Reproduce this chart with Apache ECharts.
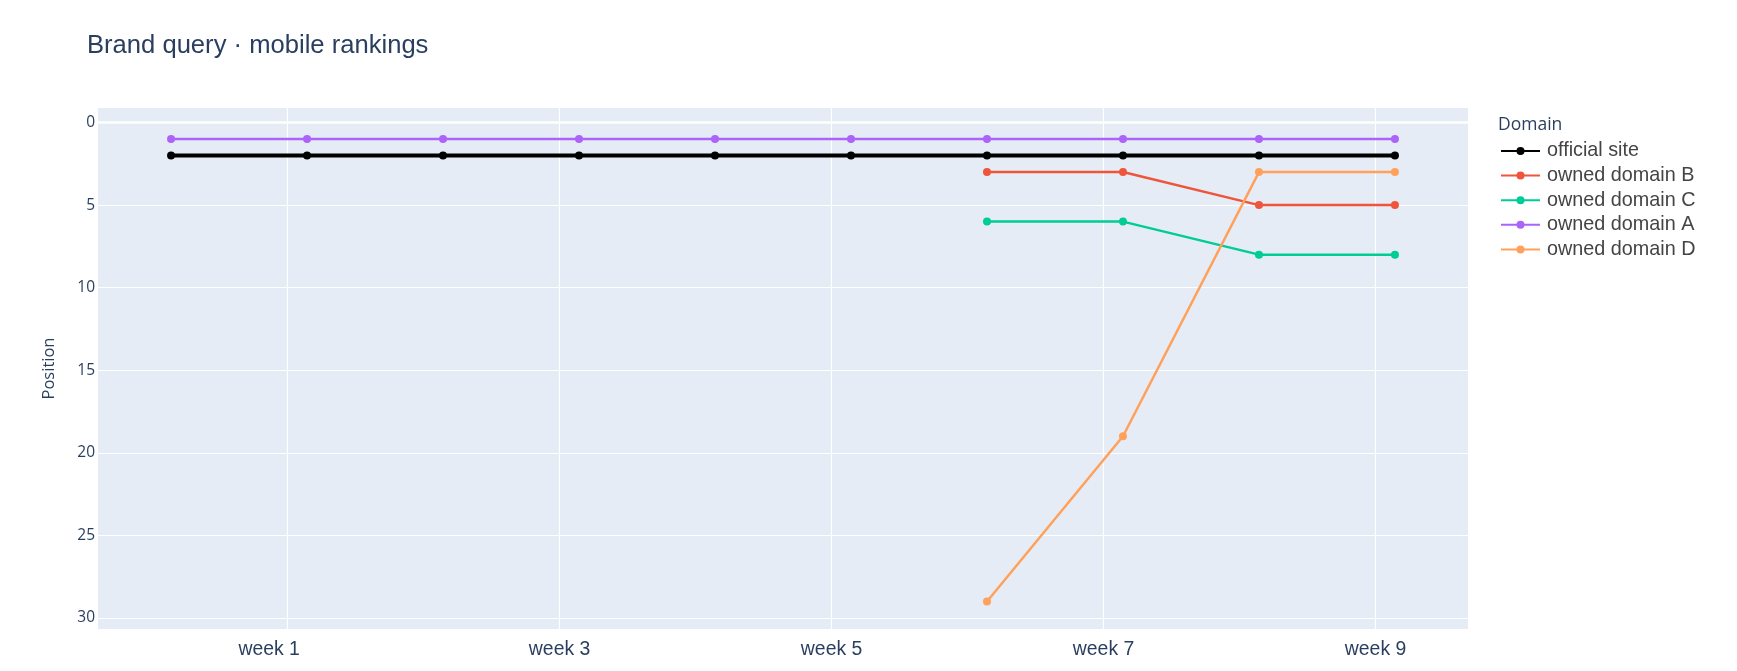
<!DOCTYPE html>
<html>
<head>
<meta charset="utf-8">
<script src="https://cdn.jsdelivr.net/npm/echarts@6/dist/echarts.min.js"></script>
<style>
  html, body { margin: 0; padding: 0; background: #fff; }
  #chart { width: 1737px; height: 671px; }
</style>
</head>
<body>
<div id="chart"></div>
<script>
// ---- data ----
const days = [1, 8, 15, 22, 29, 36, 43, 50, 57, 64];
const tickDays = [7, 21, 35, 49, 63];
const tickLabels = ['week 1', 'week 3', 'week 5', 'week 7', 'week 9'];
const yTicks = [0, 5, 10, 15, 20, 25, 30];
const seriesNames = ['official site', 'owned domain B', 'owned domain C', 'owned domain A', 'owned domain D'];
const officialSite = [2, 2, 2, 2, 2, 2, 2, 2, 2, 2];
const ownedB = [null, null, null, null, null, null, 3, 3, 5, 5];
const ownedC = [null, null, null, null, null, null, 6, 6, 8, 8];
const ownedA = [1, 1, 1, 1, 1, 1, 1, 1, 1, 1];
const ownedD = [null, null, null, null, null, null, 29, 19, 3, 3];

const values = [officialSite, ownedB, ownedC, ownedA, ownedD];
const colors = ['#000000', '#EF553B', '#00CC96', '#AB63FA', '#FFA15A'];
const widths = [4, 2.5, 2.5, 2.5, 2.5];

const SANS = '"Liberation Sans", Arial, sans-serif';
const OPEN = '"Open Sans", "Noto Sans", sans-serif';
const TXT = '#2a3f5f';

const series = values.map((vals, k) => {
  const s = {
    name: seriesNames[k],
    type: 'line',
    data: vals.map((v, i) => v == null ? null : [days[i], v]).filter(p => p !== null),
    symbol: 'circle',
    symbolSize: 8,
    showSymbol: true,
    lineStyle: { color: colors[k], width: widths[k] },
    itemStyle: { color: colors[k] },
    emphasis: { disabled: true },
    animation: false
  };
  if (k === 0) {
    s.markLine = {
      silent: true,
      symbol: 'none',
      label: { show: false },
      lineStyle: { color: '#ffffff', width: 2.5, type: 'solid' },
      data: [{ yAxis: 0 }],
      animation: false
    };
  }
  return s;
});

const chart = echarts.init(document.getElementById('chart'), null, { renderer: 'canvas' });
chart.setOption({
  backgroundColor: '#ffffff',
  animation: false,
  title: [
    {
      text: 'Brand query · mobile rankings',
      left: 87, top: 33, padding: 0,
      textStyle: { fontFamily: SANS, fontSize: 25.6, fontWeight: 'normal', color: TXT }
    },
    {
      text: 'Domain',
      left: 1498, top: 116, padding: 0,
      textStyle: { fontFamily: OPEN, fontSize: 17.5, fontWeight: 'normal', color: TXT }
    }
  ],
  legend: {
    orient: 'vertical',
    left: 1500, top: 141,
    padding: 0,
    itemWidth: 39, itemHeight: 10, itemGap: 4.6,
    textStyle: { fontFamily: SANS, fontSize: 19.8, color: '#444', lineHeight: 20, padding: [0, 0, 0, 2] },
    data: seriesNames
  },
  grid: { left: 98, right: 269, top: 108, bottom: 42, containLabel: false,
          show: true, backgroundColor: '#E5ECF6', borderWidth: 0 },
  xAxis: {
    type: 'value',
    min: -2.76, max: 67.76,
    axisLine: { show: false },
    axisTick: { show: false, customValues: tickDays },
    axisLabel: {
      customValues: tickDays,
      formatter: v => {
        const i = tickDays.indexOf(v);
        if (i < 0) return '';
        return i === 0 ? '{s|' + tickLabels[i] + '}' : tickLabels[i];
      },
      rich: { s: { fontFamily: SANS, fontSize: 19.4, color: TXT, padding: [0, 37, 0, 0] } },
      fontFamily: SANS, fontSize: 19.4, color: TXT, margin: 11
    },
    splitLine: { show: true, lineStyle: { color: '#ffffff', width: 1.2 } }
  },
  yAxis: {
    type: 'value',
    inverse: true,
    min: -0.88, max: 30.67,
    name: 'Position',
    nameLocation: 'middle',
    nameGap: 40,
    nameTextStyle: { fontFamily: OPEN, fontSize: 16.5, color: TXT },
    axisLine: { show: false },
    axisTick: { show: false, customValues: yTicks },
    axisLabel: {
      customValues: yTicks,
      fontFamily: OPEN, fontSize: 15.5, color: TXT, margin: 3
    },
    splitLine: { show: true, lineStyle: { color: '#ffffff', width: 1.2 } }
  },
  series: series
});
</script>
</body>
</html>
